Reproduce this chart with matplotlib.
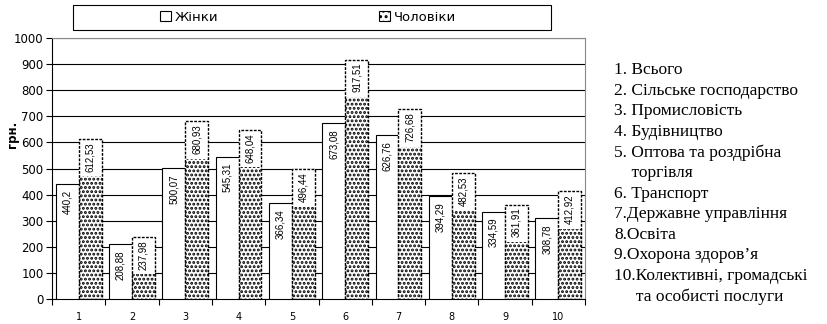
"""
Average wages by sector, women vs men
"""
import numpy as np
import matplotlib.pyplot as plt
from matplotlib.patches import Rectangle, Patch

plt.rcParams['font.family'] = ['DejaVu Sans']
plt.rcParams['hatch.linewidth'] = 1.4
plt.rcParams['hatch.color'] = 'black'

# data
categories = ['1', '2', '3', '4', '5', '6', '7', '8', '9', '10']
women = [440.2, 208.88, 500.07, 545.31, 366.34, 673.08, 626.76, 394.29, 334.59, 308.78]
men = [612.53, 237.98, 680.93, 648.04, 496.44, 917.51, 726.68, 482.53, 361.91, 412.92]
women_labels = ['440,2', '208,88', '500,07', '545,31', '366,34', '673,08', '626,76', '394,29', '334,59', '308,78']
men_labels = ['612,53', '237,98', '680,93', '648,04', '496,44', '917,51', '726,68', '482,53', '361,91', '412,92']
sectors = [
    "1. Всього",
    "2. Сільське господарство",
    "3. Промисловість",
    "4. Будівництво",
    "5. Оптова та роздрібна",
    "    торгівля",
    "6. Транспорт",
    "7.Державне управління",
    "8.Освіта",
    "9.Охорона здоров’я",
    "10.Колективні, громадські",
    "     та особисті послуги",
]

fig = plt.figure(figsize=(8.27, 3.24), dpi=100)
ax = fig.add_axes([52 / 827, 1 - 299 / 324, (585 - 52) / 827, (299 - 38) / 324])

x = np.arange(len(categories))
w = 0.43
label_box = 143  # white backing behind men's value labels
dots = '....'

ax.bar(x - w / 2, women, width=w, color='white', edgecolor='black', linewidth=0.8, zorder=3)
ax.bar(x + w / 2, men, width=w, color='white', edgecolor='black', linewidth=0,
       hatch=dots, zorder=3)
ax.bar(x + w / 2, label_box, bottom=np.array(men) - label_box, width=w, color='white',
       edgecolor='none', zorder=3.5)
ax.bar(x + w / 2, men, width=w, fill=False, edgecolor='black', linewidth=1.0,
       linestyle=(0, (2, 1)), zorder=4)

for i in range(len(x)):
    ax.text(x[i] - w / 2, women[i] - 22, women_labels[i], rotation=90, ha='center', va='top',
            fontsize=7, family='Liberation Sans', zorder=5)
    ax.text(x[i] + w / 2, men[i] - 12, men_labels[i], rotation=90, ha='center', va='top',
            fontsize=7, family='Liberation Sans', zorder=5)

ax.set_xlim(-0.5, 9.5)
ax.set_ylim(0, 1000)
ax.set_yticks(range(0, 1001, 100))
ax.yaxis.grid(True, color='black', linewidth=0.8)
ax.set_axisbelow(True)
ax.set_xticks(x)
ax.set_xticklabels(categories, fontsize=7)
ax.set_xticks(np.arange(-0.5, 10, 1), minor=True)
ax.tick_params(axis='x', which='major', length=0, pad=9)
ax.tick_params(axis='x', which='minor', length=4, width=0.8)
ax.tick_params(axis='y', labelsize=8.5, length=4, width=0.8, pad=2)
for s in ['top', 'right']:
    ax.spines[s].set_color('#888888')
ax.set_ylabel('грн.', fontsize=8.5, fontweight='bold')
ax.yaxis.set_label_coords(-0.062, 0.63)

# legend box
fig.patches.append(Rectangle((73 / 827, 1 - 30 / 324), (551 - 73) / 827, 25 / 324,
                             transform=fig.transFigure, fc='white', ec='black', lw=0.8))
handles = [Patch(fc='white', ec='black', lw=0.8),
           Patch(fc='white', ec='black', hatch='...', lw=0.8)]
fig.legend(handles, ['Жінки', 'Чоловіки'], loc='center', bbox_to_anchor=(308 / 827, 1 - 17.5 / 324),
           ncol=2, frameon=False, fontsize=9.5, columnspacing=12.2, handlelength=0.8,
           handleheight=0.8, handletextpad=0.3)

# sector list
for k, s in enumerate(sectors):
    fig.text(614 / 827, 1 - (70 + k * 20.6) / 324, s, fontsize=12.5, va='center', ha='left',
             family=['Liberation Serif', 'DejaVu Serif'])

fig.savefig('out.png', dpi=100)
